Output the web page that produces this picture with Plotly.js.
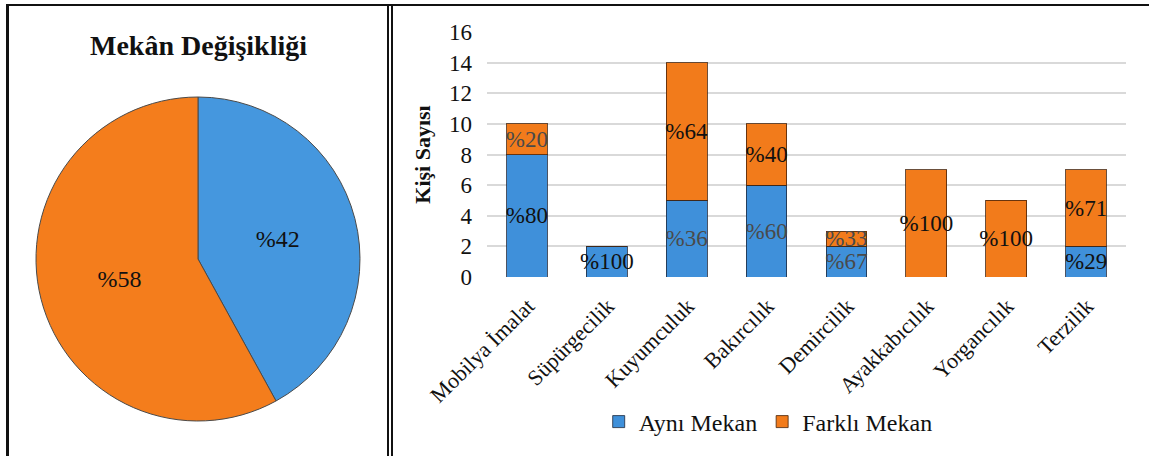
<!DOCTYPE html>
<html>
<head>
<meta charset="utf-8">
<script src="https://cdn.plot.ly/plotly-3.0.1.min.js"></script>
<style>html,body{margin:0;padding:0;background:#fff;}#chart{width:1150px;height:456px;}</style>
</head>
<body>
<div id="chart"></div>
<script>
// ---- data ----
const categories = ["Mobilya İmalat","Süpürgecilik","Kuyumculuk","Bakırcılık","Demircilik","Ayakkabıcılık","Yorgancılık","Terzilik"];
const ayniMekan   = [8, 2, 5, 6, 2, 0, 0, 2];
const farkliMekan = [2, 0, 9, 4, 1, 7, 5, 5];
const ayniPct     = ["%80","%100","%36","%60","%67","","","%29"];
const farkliPct   = ["%20","","%64","%40","%33","%100","%100","%71"];
const pieLabels   = ["Aynı Mekan","Farklı Mekan"];
const pieValues   = [42, 58];
const pieText     = ["%42","%58"];
const seriesNames = ["Aynı Mekan","Farklı Mekan"];

const W = 1150, H = 456;
const px = v => v / W, py = v => 1 - v / H;
const FONT = "Liberation Serif";
const BLUE = "#3f90da", ORANGE = "#f27b1b";

const ayniTxtCol   = ["#111","#111","#4a4a4a","#4a4a4a","#4a4a4a","#111","#111","#111"];
const farkliTxtCol = ["#4a4a4a","#111","#111","#111","#4a4a4a","#111","#111","#111"];

const traces = [
  {
    type: "pie", labels: pieLabels, values: pieValues, text: pieText,
    textinfo: "text", textposition: "inside", insidetextorientation: "horizontal",
    sort: false, direction: "clockwise", rotation: 0,
    marker: {colors: ["#4597de", "#f47d1c"], line: {color: "#4a4a4a", width: 1}},
    textfont: {family: FONT, size: 24, color: "#111"},
    domain: {x: [px(36), px(360)], y: [py(421), py(97)]},
    showlegend: false, hoverinfo: "label+percent"
  },
  {
    type: "bar", name: seriesNames[0], x: categories, y: ayniMekan, text: ayniPct,
    textposition: "inside", insidetextanchor: "middle", textangle: 0, constraintext: "none",
    textfont: {family: FONT, size: 23, color: ayniTxtCol},
    marker: {color: BLUE, line: {color: "rgba(30,40,60,0.8)", width: 1}},
    xaxis: "x", yaxis: "y"
  },
  {
    type: "bar", name: seriesNames[1], x: categories, y: farkliMekan, text: farkliPct,
    textposition: "inside", insidetextanchor: "middle", textangle: 0, constraintext: "none",
    textfont: {family: FONT, size: 23, color: farkliTxtCol},
    marker: {color: ORANGE, line: {color: "rgba(70,35,10,0.8)", width: 1}},
    xaxis: "x", yaxis: "y"
  }
];

const layout = {
  width: W, height: H,
  margin: {l: 0, r: 0, t: 0, b: 0, pad: 0},
  paper_bgcolor: "#fff", plot_bgcolor: "#fff",
  font: {family: FONT, color: "#111"},
  barmode: "stack", bargap: 0.49,
  xaxis: {
    domain: [px(487), px(1126)], anchor: "y",
    tickangle: -45, tickfont: {family: FONT, size: 22, color: "#111"},
    ticklabelshift: 1, ticklabelstandoff: 11,
    showgrid: false, showline: false, ticks: "", zeroline: false, fixedrange: true
  },
  yaxis: {
    domain: [py(277), py(32)], anchor: "x",
    range: [0, 16], dtick: 2, tick0: 0,
    tickfont: {family: FONT, size: 23, color: "#111"},
    ticklabelstandoff: 14,
    showgrid: true, gridcolor: "#d9d9d9", gridwidth: 2,
    zeroline: false, showline: false, ticks: "",
    title: {text: "<b>Kişi Sayısı</b>", font: {family: FONT, size: 22, color: "#111"}, standoff: 12},
    fixedrange: true
  },
  legend: {
    orientation: "h", x: 0.668, xanchor: "center", y: py(422), yanchor: "middle",
    font: {family: FONT, size: 24, color: "#111"}, itemwidth: 30,
    bgcolor: "rgba(0,0,0,0)", traceorder: "normal"
  },
  annotations: [
    {text: "<b>Mekân Değişikliği</b>", xref: "paper", yref: "paper",
     x: px(198), y: py(45), xanchor: "center", yanchor: "middle", showarrow: false,
     font: {family: FONT, size: 28, color: "#111"}}
  ],
  shapes: [
    {type: "line", xref: "paper", yref: "paper", x0: px(6), x1: px(1149), y0: py(5), y1: py(5), line: {color: "#111", width: 2}},
    {type: "line", xref: "paper", yref: "paper", x0: px(7.5), x1: px(7.5), y0: py(4), y1: 0, line: {color: "#111", width: 3}},
    {type: "line", xref: "paper", yref: "paper", x0: px(388), x1: px(388), y0: py(4), y1: 0, line: {color: "#111", width: 2}},
    {type: "line", xref: "paper", yref: "paper", x0: px(392), x1: px(392), y0: py(4), y1: 0, line: {color: "#111", width: 2}}
  ]
};

Plotly.newPlot("chart", traces, layout, {displayModeBar: false, staticPlot: true});
</script>
</body>
</html>
